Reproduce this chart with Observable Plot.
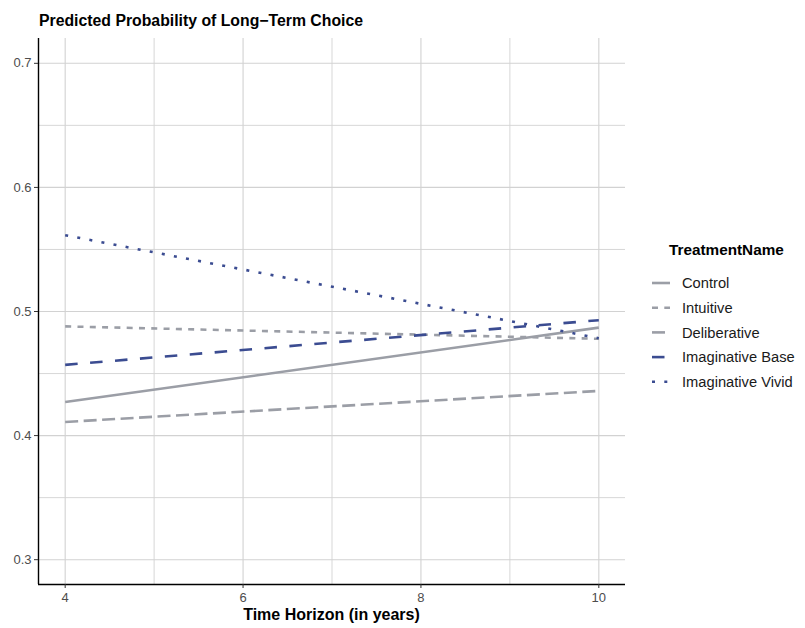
<!DOCTYPE html>
<html>
<head>
<meta charset="utf-8">
<script src="https://cdn.jsdelivr.net/npm/d3@7"></script>
<script src="https://cdn.jsdelivr.net/npm/@observablehq/plot@0.6"></script>
<style>
  html, body { margin: 0; padding: 0; background: #fff; }
  #wrap { position: relative; width: 805px; height: 628px; }
</style>
</head>
<body>
<div id="wrap"></div>
<script>
// ---- data ----
const treatments = ["Control", "Intuitive", "Deliberative", "Imaginative Base", "Imaginative Vivid"];
const horizons = [4, 10];
const control = [0.427, 0.487];
const intuitive = [0.488, 0.478];
const deliberative = [0.411, 0.436];
const imaginativeBase = [0.457, 0.493];
const imaginativeVivid = [0.5615, 0.4785];
const xTicks = [4, 6, 8, 10];
const xGrid = [4, 5, 6, 7, 8, 9, 10];
const yTicks = [0.3, 0.4, 0.5, 0.6, 0.7];
const yGrid = [0.3, 0.35, 0.4, 0.45, 0.5, 0.55, 0.6, 0.65, 0.7];
const titleText = "Predicted Probability of Long−Term Choice";
const xLabel = "Time Horizon (in years)";
const legendTitle = "TreatmentName";

const seriesValues = [control, intuitive, deliberative, imaginativeBase, imaginativeVivid];
const rows = treatments.flatMap((t, i) => horizons.map((h, j) => ({treatment: t, horizon: h, prob: seriesValues[i][j]})));

const GRAY = "#9b9ea6", BLUE = "#3b4c91";
const styles = {
  "Control": {stroke: GRAY, dash: null},
  "Intuitive": {stroke: GRAY, dash: "6 6.3"},
  "Deliberative": {stroke: GRAY, dash: "13 5.5"},
  "Imaginative Base": {stroke: BLUE, dash: "12.5 12.5"},
  "Imaginative Vivid": {stroke: BLUE, dash: "3 9.3"}
};

const FONT = "Liberation Sans, Arial, Helvetica, sans-serif";
const xDomain = [3.7, 10.3], yDomain = [0.28, 0.72];

const plot = Plot.plot({
  width: 805,
  height: 628,
  marginLeft: 38,
  marginRight: 180,
  marginTop: 38,
  marginBottom: 44,
  style: {fontFamily: FONT, background: "transparent"},
  x: {domain: xDomain},
  y: {domain: yDomain},
  marks: [
    Plot.ruleX(xGrid, {stroke: "#d2d2d2", strokeWidth: d => (xTicks.includes(d) ? 1.1 : 0.9)}),
    Plot.ruleY(yGrid, {stroke: "#d2d2d2", strokeWidth: d => (yTicks.includes(d) ? 1.1 : 0.9)}),
    ...treatments.map(t => Plot.line(rows.filter(r => r.treatment === t), {
      x: "horizon", y: "prob",
      stroke: styles[t].stroke,
      strokeWidth: 2.6,
      strokeDasharray: styles[t].dash,
      strokeLinecap: "butt"
    })),
    Plot.ruleX([xDomain[0]], {stroke: "#000", strokeWidth: 1.4}),
    Plot.ruleY([yDomain[0]], {stroke: "#000", strokeWidth: 1.4}),
    Plot.axisX({ticks: xTicks, tickSize: 4, tickPadding: 4, fontSize: 13, color: "#4d4d4d", stroke: "#333", tickFormat: d3.format("d"), label: null}),
    Plot.axisY({ticks: yTicks, tickSize: 4, tickPadding: 3, fontSize: 13, color: "#4d4d4d", stroke: "#333", tickFormat: d3.format(".1f"), label: null})
  ]
});

document.getElementById("wrap").appendChild(plot);

const svg = d3.select(plot);
const g = svg.append("g").attr("font-family", FONT).attr("text-anchor", "start");
// title
g.append("text").attr("x", 39).attr("y", 26).attr("font-size", 15.8).attr("font-weight", "bold").attr("fill", "#000").text(titleText);
// x axis title
g.append("text").attr("x", 331.5).attr("y", 620).attr("text-anchor", "middle").attr("font-size", 16).attr("font-weight", "bold").attr("fill", "#000").text(xLabel);
// legend
g.append("text").attr("x", 669).attr("y", 250).attr("dy", "0.35em")
  .attr("font-size", 15.3).attr("font-weight", "bold").attr("fill", "#000").text(legendTitle);
treatments.forEach((t, i) => {
  const y = 283 + i * 24.7;
  g.append("line").attr("x1", 652).attr("x2", 670).attr("y1", y).attr("y2", y)
    .attr("stroke", styles[t].stroke).attr("stroke-width", 2.6)
    .attr("stroke-dasharray", styles[t].dash);
  g.append("text").attr("x", 682).attr("y", y).attr("dy", "0.35em")
    .attr("font-size", 14.7).attr("fill", "#1a1a1a").text(t);
});
</script>
</body>
</html>
